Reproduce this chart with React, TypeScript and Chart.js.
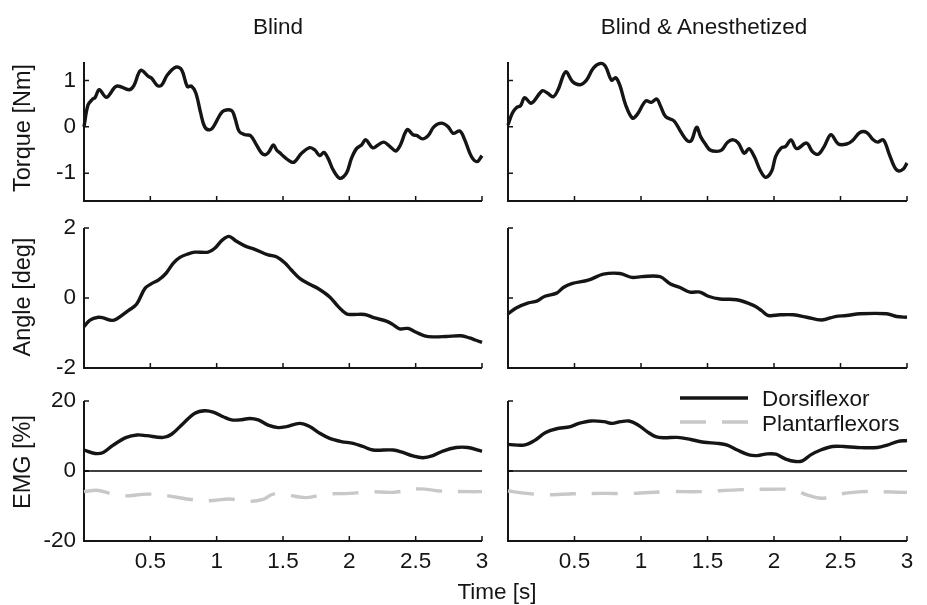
import React, { useEffect, useRef } from "react";
import { Chart, registerables } from "chart.js";

Chart.register(...registerables);

const FONT = '"Liberation Sans", Arial, Helvetica, sans-serif';
const INK = "#151515";
const GREY = "#c8c8c8";

// ---------- tick labels / ranges ----------
const timeTicks = [0.5, 1, 1.5, 2, 2.5, 3];
const torqueTicks = [-1, 0, 1];
const angleTicks = [-2, 0, 2];
const emgTicks = [-20, 0, 20];
const timeRange = [0, 3];
const torqueRange = [-1.6, 1.4];
const angleRange = [-2, 2];
const emgRange = [-20, 20];

const columnTitles = ["Blind", "Blind & Anesthetized"];
const rowLabels = ["Torque [Nm]", "Angle [deg]", "EMG [%]"];
const xLabel = "Time [s]";
const legendLabels = ["Dorsiflexor", "Plantarflexors"];

// ---------- Torque, Blind ----------
const torqueBlindT = [0, 0.03, 0.065, 0.083, 0.115, 0.17, 0.246, 0.34, 0.376, 0.427, 0.485, 0.51, 0.553, 0.585, 0.628, 0.693, 0.736, 0.779, 0.81, 0.843, 0.88, 0.91, 0.945, 0.975, 1.025, 1.055, 1.113, 1.138, 1.17, 1.213, 1.256, 1.3, 1.34, 1.37, 1.396, 1.427, 1.452, 1.476, 1.514, 1.564, 1.589, 1.64, 1.702, 1.74, 1.777, 1.808, 1.84, 1.878, 1.928, 1.978, 2.016, 2.054, 2.092, 2.124, 2.175, 2.217, 2.26, 2.305, 2.35, 2.385, 2.436, 2.48, 2.511, 2.551, 2.594, 2.637, 2.694, 2.745, 2.782, 2.833, 2.87, 2.92, 2.963, 3.0];
const torqueBlindV = [0.0, 0.47, 0.6, 0.63, 0.8, 0.64, 0.88, 0.8, 0.89, 1.22, 1.09, 1.05, 0.89, 0.9, 1.12, 1.29, 1.23, 0.87, 0.88, 0.73, 0.29, 0.0, -0.065, 0.0, 0.26, 0.35, 0.35, 0.19, -0.1, -0.17, -0.19, -0.39, -0.57, -0.6, -0.53, -0.39, -0.5, -0.56, -0.66, -0.76, -0.75, -0.57, -0.45, -0.5, -0.62, -0.55, -0.68, -0.93, -1.11, -1.0, -0.68, -0.47, -0.39, -0.28, -0.45, -0.39, -0.33, -0.42, -0.52, -0.39, -0.06, -0.17, -0.19, -0.26, -0.19, 0.0, 0.08, 0.0, -0.14, -0.09, -0.28, -0.64, -0.75, -0.62];

// ---------- Torque, Blind & Anesthetized ----------
const torqueAnesT = [0, 0.033, 0.065, 0.095, 0.125, 0.175, 0.258, 0.296, 0.34, 0.376, 0.434, 0.484, 0.541, 0.59, 0.642, 0.697, 0.734, 0.777, 0.81, 0.842, 0.885, 0.935, 0.972, 1.035, 1.078, 1.118, 1.148, 1.185, 1.248, 1.298, 1.348, 1.378, 1.418, 1.448, 1.481, 1.519, 1.569, 1.607, 1.651, 1.694, 1.732, 1.777, 1.812, 1.852, 1.895, 1.937, 1.982, 2.012, 2.052, 2.088, 2.128, 2.17, 2.245, 2.288, 2.333, 2.378, 2.428, 2.484, 2.546, 2.589, 2.646, 2.697, 2.746, 2.779, 2.822, 2.864, 2.905, 2.935, 2.972, 3.0];
const torqueAnesV = [0.04, 0.3, 0.42, 0.46, 0.63, 0.51, 0.78, 0.73, 0.65, 0.8, 1.19, 0.98, 0.91, 1.01, 1.27, 1.37, 1.3, 1.01, 1.06, 0.89, 0.47, 0.19, 0.27, 0.56, 0.53, 0.6, 0.44, 0.22, 0.13, -0.1, -0.3, -0.3, -0.01, -0.21, -0.36, -0.5, -0.53, -0.5, -0.33, -0.28, -0.35, -0.57, -0.47, -0.64, -0.93, -1.09, -0.96, -0.64, -0.46, -0.42, -0.28, -0.47, -0.35, -0.53, -0.59, -0.42, -0.17, -0.37, -0.37, -0.3, -0.12, -0.12, -0.28, -0.33, -0.28, -0.57, -0.86, -0.95, -0.91, -0.78];

// ---------- Angle ----------
const angleBlindT = [0, 0.045, 0.108, 0.146, 0.208, 0.246, 0.334, 0.396, 0.459, 0.509, 0.56, 0.617, 0.672, 0.723, 0.785, 0.836, 0.936, 0.986, 1.044, 1.094, 1.149, 1.212, 1.287, 1.388, 1.45, 1.513, 1.563, 1.626, 1.701, 1.764, 1.852, 1.915, 1.977, 2.027, 2.115, 2.19, 2.279, 2.329, 2.379, 2.442, 2.504, 2.567, 2.63, 2.73, 2.843, 2.906, 2.95, 3.0];
const angleBlindV = [-0.82, -0.63, -0.55, -0.57, -0.64, -0.6, -0.36, -0.18, 0.27, 0.41, 0.51, 0.7, 0.99, 1.16, 1.26, 1.31, 1.31, 1.42, 1.66, 1.76, 1.62, 1.49, 1.39, 1.23, 1.18, 1.01, 0.8, 0.56, 0.39, 0.27, 0.03, -0.24, -0.45, -0.47, -0.47, -0.57, -0.66, -0.76, -0.88, -0.87, -0.98, -1.08, -1.11, -1.1, -1.08, -1.14, -1.2, -1.27];
const angleAnesT = [0, 0.065, 0.153, 0.216, 0.278, 0.366, 0.416, 0.479, 0.604, 0.717, 0.842, 0.93, 1.005, 1.143, 1.218, 1.293, 1.368, 1.443, 1.506, 1.594, 1.719, 1.845, 1.907, 1.957, 2.045, 2.145, 2.246, 2.358, 2.459, 2.546, 2.647, 2.847, 2.922, 3.0];
const angleAnesV = [-0.45, -0.28, -0.14, -0.09, 0.05, 0.14, 0.3, 0.41, 0.51, 0.68, 0.7, 0.59, 0.61, 0.61, 0.41, 0.3, 0.17, 0.17, 0.05, -0.03, -0.05, -0.21, -0.36, -0.5, -0.48, -0.48, -0.55, -0.63, -0.53, -0.5, -0.45, -0.45, -0.53, -0.55];

// ---------- EMG ----------
const dorsiBlindT = [0, 0.083, 0.145, 0.22, 0.32, 0.4, 0.472, 0.597, 0.66, 0.748, 0.836, 0.911, 0.974, 1.049, 1.112, 1.174, 1.25, 1.313, 1.388, 1.463, 1.526, 1.626, 1.701, 1.777, 1.852, 1.94, 2.028, 2.103, 2.178, 2.329, 2.404, 2.479, 2.555, 2.63, 2.705, 2.805, 2.893, 3.0];
const dorsiBlindV = [6.0, 5.0, 5.3, 7.4, 9.6, 10.3, 10.1, 9.6, 10.5, 13.6, 16.5, 17.2, 16.8, 15.5, 14.6, 14.6, 15.0, 14.6, 13.1, 12.4, 12.7, 13.6, 12.7, 10.8, 9.3, 8.4, 7.9, 7.0, 6.0, 6.0, 5.3, 4.3, 3.8, 4.4, 5.7, 6.7, 6.7, 5.6];
const dorsiAnesT = [0, 0.12, 0.195, 0.283, 0.358, 0.471, 0.534, 0.622, 0.722, 0.784, 0.847, 0.91, 0.972, 1.048, 1.11, 1.173, 1.273, 1.373, 1.474, 1.574, 1.649, 1.724, 1.812, 1.875, 1.95, 2.013, 2.088, 2.163, 2.213, 2.276, 2.351, 2.439, 2.526, 2.627, 2.777, 2.852, 2.927, 3.0];
const dorsiAnesV = [7.6, 7.4, 8.6, 11.0, 12.0, 12.7, 13.6, 14.3, 14.1, 13.6, 14.1, 14.3, 13.3, 11.2, 9.8, 9.5, 9.6, 9.0, 8.2, 7.9, 7.4, 6.0, 4.6, 4.4, 4.9, 4.8, 3.4, 2.7, 2.9, 4.6, 6.0, 7.0, 7.0, 6.7, 6.7, 7.4, 8.4, 8.7];
const plantarBlindT = [0, 0.095, 0.196, 0.309, 0.472, 0.622, 0.773, 0.936, 1.099, 1.225, 1.35, 1.425, 1.551, 1.676, 1.827, 2.003, 2.153, 2.329, 2.529, 2.68, 2.906, 3.0];
const plantarBlindV = [-5.9, -5.5, -6.4, -7.1, -6.6, -7.0, -8.0, -8.5, -8.0, -8.7, -8.1, -6.6, -7.0, -7.6, -6.6, -6.4, -5.9, -6.1, -5.1, -5.7, -5.9, -5.9];
const plantarAnesT = [0, 0.14, 0.291, 0.491, 0.717, 0.942, 1.193, 1.444, 1.719, 1.995, 2.145, 2.246, 2.358, 2.496, 2.672, 3.0];
const plantarAnesV = [-5.7, -6.4, -6.8, -6.5, -6.4, -6.4, -5.9, -5.9, -5.4, -5.2, -5.4, -6.8, -7.8, -6.6, -5.9, -6.1];
const zeroT = [0, 3];
const zeroV = [0, 0];

type Series = { label: string; t: number[]; v: number[]; color: string; width: number; dash?: number[] };

const axesPlugin = {
  id: "matlabAxes",
  beforeDatasetsDraw(chart: any) {
    const { ctx, chartArea: a, scales } = chart;
    const x = scales.x;
    const y = scales.y;
    ctx.save();
    ctx.strokeStyle = INK;
    ctx.lineWidth = 2;
    ctx.beginPath();
    ctx.moveTo(a.left, a.top);
    ctx.lineTo(a.left, a.bottom);
    ctx.lineTo(a.right, a.bottom);
    ctx.stroke();
    ctx.lineWidth = 1.5;
    ctx.beginPath();
    x.ticks.forEach((t: any) => {
      const px = x.getPixelForValue(t.value);
      ctx.moveTo(px, a.bottom);
      ctx.lineTo(px, a.bottom - 5);
    });
    y.ticks.forEach((t: any) => {
      const py = y.getPixelForValue(t.value);
      ctx.moveTo(a.left, py);
      ctx.lineTo(a.left + 5, py);
    });
    ctx.stroke();
    ctx.restore();
  },
};

const legendPlugin = {
  id: "emgLegend",
  afterDraw(chart: any) {
    const { ctx, chartArea: a } = chart;
    const items = chart.data.datasets.filter((d: any) => d.label);
    ctx.save();
    ctx.font = `22.5px ${FONT}`;
    ctx.textBaseline = "middle";
    ctx.textAlign = "left";
    items.forEach((d: any, i: number) => {
      const y = a.top - 3 + i * 24;
      ctx.strokeStyle = d.borderColor;
      ctx.lineWidth = d.borderWidth;
      ctx.setLineDash(d.borderDash || []);
      ctx.beginPath();
      ctx.moveTo(a.right - 227, y);
      ctx.lineTo(a.right - 159, y);
      ctx.stroke();
      ctx.setLineDash([]);
      ctx.fillStyle = INK;
      ctx.fillText(d.label, a.right - 145, y + 2 + i * 1);
    });
    ctx.restore();
  },
};

const PAD_TOP = 24;
const PAD_RIGHT = 16;
const Y_W = 60;
const X_H = 44;

function Panel(props: {
  left: number; top: number; w: number; h: number; series: Series[];
  range: number[]; yTicks: number[]; showX: boolean; showY: boolean; legend?: boolean;
}) {
  const ref = useRef<HTMLCanvasElement>(null);
  const cw = Y_W + props.w + PAD_RIGHT;
  const ch = PAD_TOP + props.h + X_H;
  useEffect(() => {
    const chart = new Chart(ref.current as HTMLCanvasElement, {
      type: "line",
      data: {
        datasets: props.series.map((s) => ({
          label: s.label,
          data: s.t.map((x, i) => ({ x, y: s.v[i] })),
          borderColor: s.color,
          borderWidth: s.width,
          borderDash: s.dash || [],
          pointRadius: 0,
          tension: 0.35,
          fill: false,
          clip: false as any,
        })),
      },
      options: {
        animation: false,
        responsive: false,
        maintainAspectRatio: false,
        events: [],
        layout: { padding: { top: PAD_TOP, right: PAD_RIGHT, left: 0, bottom: 0 } },
        plugins: { legend: { display: false }, tooltip: { enabled: false } },
        scales: {
          x: {
            type: "linear",
            min: timeRange[0],
            max: timeRange[1],
            grid: { display: false, drawTicks: false },
            border: { display: false },
            afterBuildTicks: (s: any) => { s.ticks = timeTicks.map((v) => ({ value: v })); },
            afterFit: (s: any) => { s.height = X_H; },
            ticks: {
              display: props.showX,
              autoSkip: false,
              maxRotation: 0,
              padding: 7,
              color: INK,
              font: { size: 22.5, family: FONT },
              callback: (v: any) => String(v),
            },
          },
          y: {
            type: "linear",
            min: props.range[0],
            max: props.range[1],
            grid: { display: false, drawTicks: false },
            border: { display: false },
            afterBuildTicks: (s: any) => { s.ticks = props.yTicks.map((v) => ({ value: v })); },
            afterFit: (s: any) => { s.width = Y_W; },
            ticks: {
              display: props.showY,
              autoSkip: false,
              padding: 8,
              color: INK,
              font: { size: 22.5, family: FONT },
              callback: (v: any) => String(v),
            },
          },
        },
      } as any,
      plugins: props.legend ? [axesPlugin, legendPlugin] : [axesPlugin],
    });
    return () => chart.destroy();
  }, []);
  return (
    <canvas
      ref={ref}
      width={cw}
      height={ch}
      style={{ position: "absolute", left: props.left - Y_W, top: props.top - PAD_TOP, width: cw, height: ch }}
    />
  );
}

const line = (label: string, t: number[], v: number[]): Series => ({ label, t, v, color: INK, width: 3.4 });

export default function App() {
  const cols = [
    { left: 84, w: 398 },
    { left: 508, w: 399 },
  ];
  const rows = [
    { top: 62, h: 139, range: torqueRange, ticks: torqueTicks },
    { top: 228, h: 140, range: angleRange, ticks: angleTicks },
    { top: 401, h: 140, range: emgRange, ticks: emgTicks },
  ];
  const seriesGrid: Series[][][] = [
    [[line("", torqueBlindT, torqueBlindV)], [line("", torqueAnesT, torqueAnesV)]],
    [[line("", angleBlindT, angleBlindV)], [line("", angleAnesT, angleAnesV)]],
    [
      [
        line(legendLabels[0], dorsiBlindT, dorsiBlindV),
        { label: legendLabels[1], t: plantarBlindT, v: plantarBlindV, color: GREY, width: 3.4, dash: [26, 16] },
        { label: "", t: zeroT, v: zeroV, color: "#000", width: 1.6 },
      ],
      [
        line(legendLabels[0], dorsiAnesT, dorsiAnesV),
        { label: legendLabels[1], t: plantarAnesT, v: plantarAnesV, color: GREY, width: 3.4, dash: [26, 16] },
        { label: "", t: zeroT, v: zeroV, color: "#000", width: 1.6 },
      ],
    ],
  ];
  const txt: React.CSSProperties = {
    position: "absolute",
    fontFamily: FONT,
    fontSize: 22.5,
    lineHeight: 1,
    color: INK,
    whiteSpace: "nowrap",
  };
  const rowLabelY = [128, 297, 462];
  return (
    <div style={{ position: "absolute", left: 0, top: 0, width: 927, height: 605, background: "#fff", overflow: "hidden" }}>
      {rows.map((r, ri) =>
        cols.map((c, ci) => (
          <Panel
            key={`${ri}-${ci}`}
            left={c.left}
            top={r.top}
            w={c.w}
            h={r.h}
            series={seriesGrid[ri][ci]}
            range={r.range}
            yTicks={r.ticks}
            showX={ri === 2}
            showY={ci === 0}
            legend={ri === 2 && ci === 1}
          />
        ))
      )}
      <div style={{ ...txt, left: 278, top: 27, transform: "translate(-50%, -50%)" }}>{columnTitles[0]}</div>
      <div style={{ ...txt, left: 704, top: 27, transform: "translate(-50%, -50%)" }}>{columnTitles[1]}</div>
      {rowLabels.map((l, i) => (
        <div key={l} style={{ ...txt, fontSize: 23.5, left: 23, top: rowLabelY[i], transform: "translate(-50%, -50%) rotate(-90deg)" }}>{l}</div>
      ))}
      <div style={{ ...txt, left: 497, top: 592, transform: "translate(-50%, -50%)" }}>{xLabel}</div>
    </div>
  );
}
